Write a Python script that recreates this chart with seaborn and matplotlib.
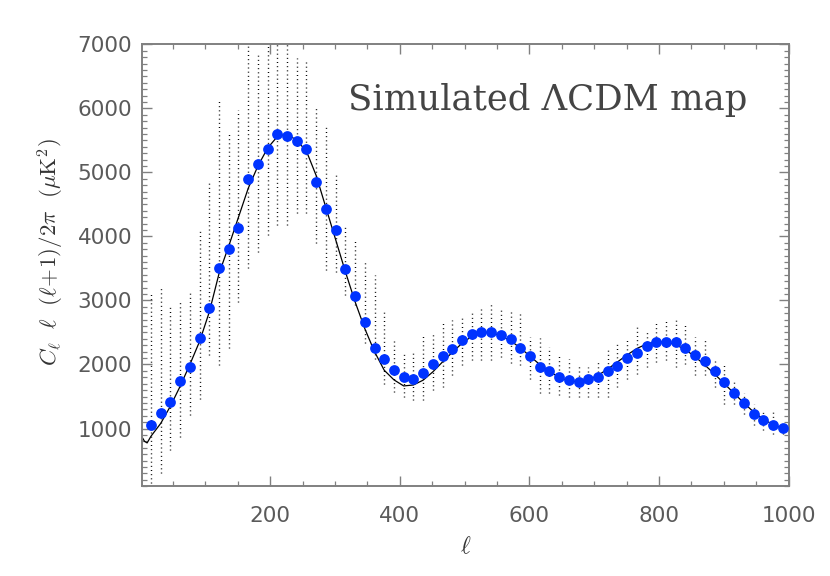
import matplotlib
matplotlib.use("Agg")
import matplotlib.pyplot as plt
import numpy as np
import pandas as pd
import seaborn as sns
from matplotlib.ticker import MultipleLocator

# ── Data ───────────────────────────────────────────────────────────────────
ell_bins = [16, 31, 46, 61, 76, 91, 106, 121, 136, 151, 166, 181, 196, 211,
            226, 241, 256, 271, 286, 301, 316, 331, 346, 361, 376, 391, 406,
            421, 436, 451, 466, 481, 496, 511, 526, 541, 556, 571, 586, 601,
            616, 631, 646, 661, 676, 691, 706, 721, 736, 751, 766, 781, 796,
            811, 826, 841, 856, 871, 886, 901, 916, 931, 946, 961, 976, 991]

cl_mean = [1062, 1239, 1416, 1739, 1963, 2416, 2875, 3505, 3806, 4125, 4900,
           5130, 5359, 5598, 5572, 5489, 5364, 4848, 4427, 4098, 3484, 3072,
           2666, 2250, 2083, 1916, 1812, 1781, 1869, 2009, 2134, 2239, 2375,
           2469, 2500, 2505, 2453, 2395, 2250, 2134, 1963, 1895, 1806, 1750,
           1725, 1766, 1797, 1895, 1984, 2103, 2181, 2286, 2359, 2353, 2348,
           2250, 2145, 2056, 1891, 1734, 1552, 1391, 1234, 1134, 1062, 1009]

# spread of the individual realisations in each bin
cl_lo = [145, 300, 660, 870, 1207, 1468, 2145, 1990, 2250, 2980, 3500, 3760,
         4020, 4180, 4180, 4360, 4360, 3890, 3470, 3450, 3080, 2925, 2330,
         2090, 1700, 1572, 1494, 1442, 1442, 1598, 1650, 1833, 1989, 2067,
         2067, 2067, 2119, 2016, 1990, 1781, 1547, 1547, 1520, 1494, 1494,
         1494, 1494, 1500, 1650, 1781, 1859, 1963, 2041, 2067, 1963, 2015,
         1833, 1833, 1650, 1390, 1390, 1234, 1052, 973, 922, 922]
cl_hi = [3100, 3200, 2900, 3005, 3160, 4100, 4830, 6130, 5610, 5970, 6990,
         6860, 7000, 7000, 7000, 6780, 6750, 6010, 5740, 5005, 4150, 3940,
         3600, 3400, 2820, 2406, 2172, 2172, 2458, 2484, 2666, 2692, 2719,
         2848, 2900, 2978, 2875, 2822, 2797, 2432, 2406, 2275, 2145, 2093,
         1990, 1963, 2067, 2250, 2353, 2380, 2588, 2536, 2666, 2718, 2718,
         2614, 2432, 2380, 2093, 1989, 1755, 1547, 1390, 1260, 1260, 1104]

# input theory spectrum
ell_theory = [2, 6, 10, 16, 31, 46, 61, 76, 91, 106, 121, 136, 151, 166, 181,
              196, 211, 226, 241, 256, 271, 286, 301, 316, 331, 346, 361, 376,
              391, 406, 421, 436, 451, 466, 481, 496, 511, 526, 541, 556, 571,
              586, 601, 616, 631, 646, 661, 676, 691, 706, 721, 736, 751, 766,
              781, 796, 811, 826, 841, 856, 871, 886, 901, 916, 931, 946, 961,
              976, 991, 1000]
cl_theory = [870, 800, 775, 880, 1080, 1350, 1660, 2000, 2360, 2820, 3420,
             3850, 4300, 4750, 5100, 5380, 5560, 5600, 5500, 5330, 4950, 4450,
             3950, 3450, 2980, 2560, 2200, 1910, 1760, 1665, 1680, 1755, 1885,
             2040, 2190, 2330, 2440, 2500, 2500, 2450, 2370, 2260, 2130, 2000,
             1890, 1800, 1745, 1730, 1760, 1830, 1930, 2040, 2150, 2250, 2320,
             2355, 2350, 2310, 2230, 2120, 1990, 1850, 1700, 1550, 1400, 1260,
             1150, 1060, 1000, 970]

XTICKS = [200, 400, 600, 800, 1000]
YTICKS = [1000, 2000, 3000, 4000, 5000, 6000, 7000]

# ── Style ──────────────────────────────────────────────────────────────────
sns.set_theme(style="ticks")
plt.rcParams["font.family"] = ["DejaVu Sans"]
plt.rcParams["mathtext.fontset"] = "cm"

AXIS_GREY = "#808080"
TEXT_GREY = "#5a5a5a"

fig = plt.figure(figsize=(8.3, 5.76), dpi=100)
ax = fig.add_axes([0.171, 0.156, 0.779, 0.767])

# realisations: dotted columns per bin
ax.vlines(ell_bins, cl_lo, cl_hi, colors="black",
          linewidth=1.0, linestyles=(0, (0.7, 2.3)))

theory_df = pd.DataFrame({"ell": ell_theory, "cl": cl_theory})
sns.lineplot(data=theory_df, x="ell", y="cl", color="black",
             linewidth=0.9, ax=ax, sort=False)

mean_df = pd.DataFrame({"ell": ell_bins, "cl": cl_mean})
sns.scatterplot(data=mean_df, x="ell", y="cl", color="#0033ff",
                s=60, linewidth=0, ax=ax, zorder=5)

ax.set_xlim(2, 1000)
ax.set_ylim(100, 7000)
ax.set_xticks(XTICKS)
ax.set_yticks(YTICKS)
ax.xaxis.set_minor_locator(MultipleLocator(50))
ax.yaxis.set_minor_locator(MultipleLocator(100))

ax.tick_params(which="both", direction="in", top=True, right=True,
               color=AXIS_GREY, labelcolor=TEXT_GREY, labelsize=15.5)
ax.tick_params(which="major", length=7, width=1.0)
ax.tick_params(which="minor", length=3.5, width=0.9)
ax.tick_params(axis="x", which="major", pad=14)
ax.tick_params(axis="y", which="major", pad=7)

for sp in ax.spines.values():
    sp.set_visible(True)
    sp.set_color(AXIS_GREY)
    sp.set_linewidth(1.4)

ax.set_xlabel(r"$\ell$", fontsize=17, color="#333333", labelpad=6)
ax.set_ylabel(r"$C_\ell\ \ \ell\ \ (\ell\!+\!1)/2\pi\ \ (\mu{\rm K}^2)$",
              fontsize=16.5, color="#333333", labelpad=8)
ax.yaxis.set_label_coords(-0.118, 0.53)

ax.text(0.318, 0.874, "Simulated \u039bCDM map", transform=ax.transAxes,
        fontsize=25.5, color="#444444", va="center", ha="left",
        family=["DejaVu Serif"], fontweight="light")

fig.savefig("out.png", dpi=100)
plt.close(fig)
